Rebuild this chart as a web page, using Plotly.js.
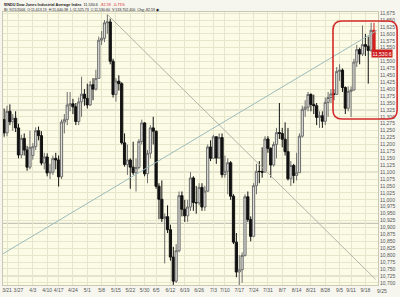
<!DOCTYPE html>
<html><head><meta charset="utf-8">
<script src="https://cdn.plot.ly/plotly-3.0.1.min.js"></script>
<style>html,body{margin:0;padding:0;background:#f6f6ee;}#chart{width:400px;height:297px;}</style>
</head><body><div id="chart"></div>
<script>
const dates = ['3/20','3/21','3/22','3/23','3/24','3/27','3/28','3/29','3/30','3/31',
'4/3','4/4','4/5','4/6','4/7','4/10','4/11','4/12','4/13','4/17','4/18','4/19','4/20','4/21','4/24','4/25','4/26','4/27','4/28',
'5/1','5/2','5/3','5/4','5/5','5/8','5/9','5/10','5/11','5/12','5/15','5/16','5/17','5/18','5/19','5/22','5/23','5/24','5/25','5/26','5/30','5/31',
'6/1','6/2','6/5','6/6','6/7','6/8','6/9','6/12','6/13','6/14','6/15','6/16','6/19','6/20','6/21','6/22','6/23','6/26','6/27','6/28','6/29','6/30',
'7/3','7/5','7/6','7/7','7/10','7/11','7/12','7/13','7/14','7/17','7/18','7/19','7/20','7/21','7/24','7/25','7/26','7/27','7/28','7/31',
'8/1','8/2','8/3','8/4','8/7','8/8','8/9','8/10','8/11','8/14','8/15','8/16','8/17','8/18','8/21','8/22','8/23','8/24','8/25','8/28','8/29','8/30','8/31',
'9/1','9/5','9/6','9/7','9/8','9/11','9/12','9/13','9/14','9/15','9/18','9/19','9/20','9/21'];

const open = [11290,11242,11320,11282,11295,11260,11162,11222,11180,11118,
11160,11192,11250,11232,11133,11155,11097,11100,11150,11144,11083,11281,11290,11343,11347,11336,11283,11354,11382,
11367,11343,11416,11400,11439,11577,11584,11640,11643,11501,11381,11429,11420,11206,11128,11144,11118,11098,11117,11211,11278,11094,
11168,11260,11248,11049,11002,10932,10939,10892,10793,10706,10816,11015,10966,10942,10974,11079,10990,10989,11045,10974,11031,11191,
11150,11228,11151,11225,11091,11103,11134,11013,10847,10739,10747,10799,11011,10929,10868,11051,11103,11102,11100,11220,
11186,11126,11200,11243,11240,11219,11174,11076,11124,11088,11098,11230,11327,11335,11381,11345,11340,11298,11304,11284,11352,11370,11383,
11381,11464,11469,11406,11331,11392,11397,11498,11543,11527,11561,11555,11540,11613];

const high = [11330,11340,11345,11310,11320,11275,11235,11240,11195,11250,
11205,11262,11265,11248,11170,11168,11130,11160,11170,11160,11290,11310,11390,11390,11365,11350,11370,11445,11400,
11420,11430,11440,11470,11590,11610,11650,11670,11655,11510,11440,11450,11425,11240,11200,11150,11210,11150,11220,11290,11280,11180,
11270,11300,11250,11060,11070,10950,10980,10910,10830,10840,11030,11030,11000,11000,11100,11085,11050,11060,11060,11050,11200,11215,
11235,11228,11240,11240,11160,11150,11140,11020,10880,10800,10810,11020,11030,10940,11060,11130,11140,11190,11230,11230,
11190,11210,11260,11350,11260,11280,11260,11140,11130,11170,11240,11340,11360,11390,11385,11380,11350,11320,11320,11370,11390,11400,11400,
11480,11490,11475,11410,11410,11410,11510,11560,11550,11630,11600,11590,11640,11640];

const low = [11228,11230,11270,11250,11245,11150,11150,11160,11105,11110,
11145,11180,11215,11125,11110,11085,11075,11090,11110,11048,11075,11240,11270,11320,11310,11270,11270,11300,11340,
11330,11340,11360,11395,11439,11560,11570,11600,11490,11370,11355,11395,11200,11120,11090,11040,11090,11030,11110,11200,11085,11060,
11150,11200,11040,10930,10920,10770,10880,10780,10690,10700,10810,10940,10920,10920,10960,10960,10950,10980,10960,10960,11030,11140,
11150,11130,11150,11080,11080,11020,11000,10840,10720,10685,10700,10795,10920,10850,10865,11020,11060,11080,11100,11170,
11080,11120,11150,11220,11190,11160,11070,11050,11060,11070,11098,11225,11300,11320,11320,11310,11270,11260,11260,11270,11300,11350,11360,
11380,11430,11390,11310,11320,11300,11395,11480,11490,11520,11520,11420,11535,11525];

const close = [11242,11320,11282,11295,11260,11162,11222,11180,11118,11190,
11192,11250,11232,11133,11155,11097,11100,11150,11144,11083,11281,11290,11343,11347,11336,11283,11354,11382,11367,
11343,11416,11400,11439,11577,11584,11640,11643,11501,11381,11429,11420,11206,11128,11144,11118,11098,11117,11211,11278,11094,11168,
11260,11248,11049,11002,10932,10939,10892,10793,10706,10816,11015,10966,10942,10974,11079,10990,10989,11045,10974,11031,11191,11150,
11228,11151,11225,11091,11103,11134,11013,10847,10739,10747,10799,11011,10929,10868,11051,11103,11102,11100,11220,11186,
11126,11200,11243,11240,11219,11174,11076,11124,11088,11098,11230,11327,11335,11381,11345,11340,11298,11304,11284,11352,11370,11383,11381,
11464,11469,11406,11331,11392,11397,11498,11543,11527,11561,11555,11540,11613,11530.6];

const tickLabels = ['3/21','3/27','4/3','4/10','4/17','4/24','5/1','5/8','5/15','5/22','5/30','6/5','6/12','6/19','6/26',
'7/3','7/10','7/17','7/24','7/31','8/7','8/14','8/21','8/28','9/5','9/11','9/18'];
const extraTickLabel = '9/25';
const yTicks = [];
for (let v = 10700; v <= 11675; v += 25) yTicks.push(v);
const hiddenYTick = 11525; // covered by the last-price tag

const hLevels = [11325, 11100, 10915, 10725];
const downTrend = {x:[36, 129.6], y:[11670, 10712]};
const upTrend = {x:[-0.4, 130], y:[10805, 11612]};
const lastPrice = 11530.60;
const lastChange = '-82.59';
const lastPct = '-0.71%';

const idx = dates.map((d,i)=>i);
const n = dates.length;
const fmt = v => v.toLocaleString('en-US');

const main = {
  type:'candlestick', x: idx.slice(0,n-1), open: open.slice(0,n-1), high: high.slice(0,n-1),
  low: low.slice(0,n-1), close: close.slice(0,n-1),
  increasing:{line:{color:'#6e6e6e', width:1}, fillcolor:'#dcdcd8'},
  decreasing:{line:{color:'#121212', width:1}, fillcolor:'#121212'},
  hoverinfo:'skip', showlegend:false
};
const last = {
  type:'candlestick', x: idx.slice(n-1), open: open.slice(n-1), high: high.slice(n-1),
  low: low.slice(n-1), close: close.slice(n-1),
  increasing:{line:{color:'#d42020', width:1}, fillcolor:'#d42020'},
  decreasing:{line:{color:'#d42020', width:1}, fillcolor:'#d42020'},
  hoverinfo:'skip', showlegend:false
};

const shapes = [];
hLevels.forEach(v => shapes.push({type:'line', xref:'paper', x0:0, x1:1, yref:'y', y0:v, y1:v, line:{color:'#b9b9ad', width:1}, layer:'below'}));
shapes.push({type:'line', xref:'x', yref:'y', x0:downTrend.x[0], x1:downTrend.x[1], y0:downTrend.y[0], y1:downTrend.y[1], line:{color:'#b5b5ab', width:1}});
shapes.push({type:'line', xref:'x', yref:'y', x0:upTrend.x[0], x1:upTrend.x[1], y0:upTrend.y[0], y1:upTrend.y[1], line:{color:'#9cbcbc', width:1}});
const bx0=0.880, bx1=1.051, by0=0.608, by1=0.967, rx=0.024, ry=0.033;
shapes.push({type:'path', xref:'paper', yref:'paper',
  path:`M ${bx0+rx} ${by1} L ${bx1-rx} ${by1} Q ${bx1} ${by1} ${bx1} ${by1-ry} L ${bx1} ${by0+ry} Q ${bx1} ${by0} ${bx1-rx} ${by0} L ${bx0+rx} ${by0} Q ${bx0} ${by0} ${bx0} ${by0+ry} L ${bx0} ${by1-ry} Q ${bx0} ${by1} ${bx0+rx} ${by1} Z`,
  line:{color:'#d42a2a', width:1.6}});

const annotations = [
  {xref:'paper', yref:'paper', x:-0.003, y:1.026, xanchor:'left', yanchor:'middle', showarrow:false,
   text:'<b>$INDU Dow Jones Industrial Average Index</b>  ' + fmt(lastPrice) + '  <span style="color:#d42020">' + lastChange + '  ' + lastPct + '</span>',
   font:{family:'Liberation Sans, Arial', size:3.8, color:'#222'}},
  {xref:'paper', yref:'paper', x:-0.003, y:1.008, xanchor:'left', yanchor:'middle', showarrow:false,
   text:'Bl: 9/21/2006  O:11,613.19  H:11,640.38  L:11,525.73  C:11,530.60  V:133,702,400  Chg:' + lastChange + ' ◆',
   font:{family:'Liberation Sans, Arial', size:3.6, color:'#222'}},
  {xref:'paper', yref:'y', x:0.981, y:lastPrice, xanchor:'left', yanchor:'middle', showarrow:false,
   text:fmt(lastPrice), bgcolor:'#cc2020', borderpad:0.5,
   font:{family:'Liberation Sans, Arial', size:5, color:'#ffffff'}},
  {xref:'paper', yref:'paper', x:1.0107, y:-0.022, xanchor:'center', yanchor:'middle', showarrow:false,
   text:extraTickLabel, font:{family:'Liberation Sans, Arial', size:5, color:'#555'}}
];

const layout = {
  width:400, height:297,
  margin:{l:3, r:22, t:12, b:12, pad:0},
  paper_bgcolor:'#f6f6ee', plot_bgcolor:'#fbfbe6',
  showlegend:false, boxgap:0.12, boxgroupgap:0.12,
  xaxis:{type:'linear', range:[-0.4, 130.4], rangeslider:{visible:false},
    tickvals: tickLabels.map(t=>dates.indexOf(t)), ticktext: tickLabels, tickangle:0,
    showgrid:true, gridcolor:'#e6e6cc', gridwidth:1, zeroline:false,
    showline:true, mirror:true, linecolor:'#c8c8b4', linewidth:1,
    ticks:'', tickfont:{family:'Liberation Sans, Arial', size:5, color:'#555'}, fixedrange:true},
  yaxis:{side:'right', range:[10692, 11679], tickvals:yTicks, ticktext:yTicks.map(v => v === hiddenYTick ? '' : fmt(v)),
    showgrid:true, gridcolor:'#e6e6cc', gridwidth:1, zeroline:false,
    showline:true, mirror:true, linecolor:'#c8c8b4', linewidth:1,
    ticks:'', tickfont:{family:'Liberation Sans, Arial', size:5, color:'#555'}, fixedrange:true},
  shapes: shapes,
  annotations: annotations
};

Plotly.newPlot('chart', [main, last], layout, {displayModeBar:false, staticPlot:true});
</script></body></html>
